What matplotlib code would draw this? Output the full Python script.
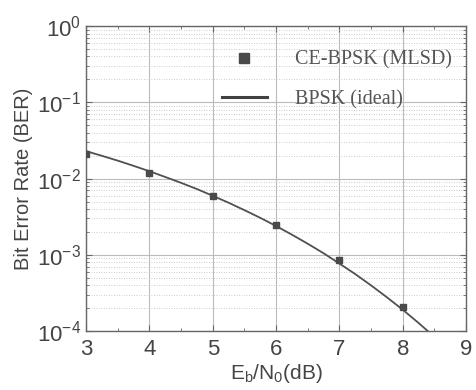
import matplotlib
matplotlib.use("Agg")
import matplotlib.pyplot as plt
from matplotlib.ticker import LogLocator, MultipleLocator, NullFormatter
from matplotlib.lines import Line2D

# Data
ebn0_sim = [3, 4, 5, 6, 7, 8]
ber_sim = [0.021, 0.0118, 0.0060, 0.0025, 0.00085, 0.00021]

ebn0_ideal = [3.0, 3.25, 3.5, 3.75, 4.0, 4.25, 4.5, 4.75, 5.0, 5.25, 5.5, 5.75,
              6.0, 6.25, 6.5, 6.75, 7.0, 7.25, 7.5, 7.75, 8.0, 8.25, 8.4]
ber_ideal = [0.0229, 0.0199, 0.0172, 0.0147, 0.0125, 0.0105, 0.0088, 0.0073,
             0.00595, 0.00483, 0.00386, 0.00306, 0.00239, 0.00184, 0.00140,
             0.00105, 0.00077, 0.00056, 0.000398, 0.000278, 0.000191, 0.000128, 0.0000996]

xticks = [3, 4, 5, 6, 7, 8, 9]

plt.rcParams['font.family'] = ['Liberation Sans', 'DejaVu Sans']
plt.rcParams['mathtext.fontset'] = 'custom'
plt.rcParams['mathtext.rm'] = 'Liberation Sans'
plt.rcParams['mathtext.it'] = 'Liberation Sans'

fig = plt.figure(figsize=(4.76, 3.90), dpi=100)
ax = fig.add_axes([0.181, 0.151, 0.798, 0.782])

txt = '#444444'
ax.semilogy(ebn0_ideal, ber_ideal, color='#505050', lw=1.3, zorder=3)
ax.semilogy(ebn0_sim, ber_sim, ls='none', marker='s', ms=4.6, color='#4a4a4a', zorder=4)

ax.set_xlim(3, 9)
ax.set_ylim(1e-4, 1)
ax.set_xticks(xticks)
ax.xaxis.set_minor_locator(MultipleLocator(0.5))
ax.yaxis.set_major_locator(LogLocator(base=10, numticks=10))
ax.yaxis.set_minor_locator(LogLocator(base=10, subs=range(2, 10), numticks=20))
ax.yaxis.set_minor_formatter(NullFormatter())

ax.grid(which='major', color='#bbbbbb', lw=0.8, ls='-')
ax.grid(which='minor', axis='y', color='#bbbbbb', lw=0.6, ls=(0, (1, 2)))
ax.tick_params(which='both', direction='in', top=True, right=True, colors='#666666', labelcolor=txt)
ax.tick_params(which='major', length=4, labelsize=16)
ax.tick_params(axis='x', which='major', pad=6)
ax.tick_params(which='minor', length=2)
for s in ax.spines.values():
    s.set_color('#666666')
    s.set_linewidth(1.0)

ax.set_ylabel('Bit Error Rate (BER)', fontsize=14.5, color=txt, labelpad=3)
ax.set_xlabel(r'E$_\mathrm{b}$/N$_\mathrm{0}$(dB)', fontsize=15, color=txt, labelpad=1)

handles = [Line2D([], [], ls='none', marker='s', ms=7, color='#4a4a4a'),
           Line2D([], [], color='#404040', lw=2.2)]
leg = ax.legend(handles, ['CE-BPSK (MLSD)', 'BPSK (ideal)'], loc='upper right',
                frameon=False, prop={'family': 'Liberation Serif', 'size': 14.5},
                handlelength=2.2, handletextpad=1.4, labelspacing=1.0,
                bbox_to_anchor=(1.01, 0.98), labelcolor='#555555')

fig.savefig('out.png', dpi=100)
